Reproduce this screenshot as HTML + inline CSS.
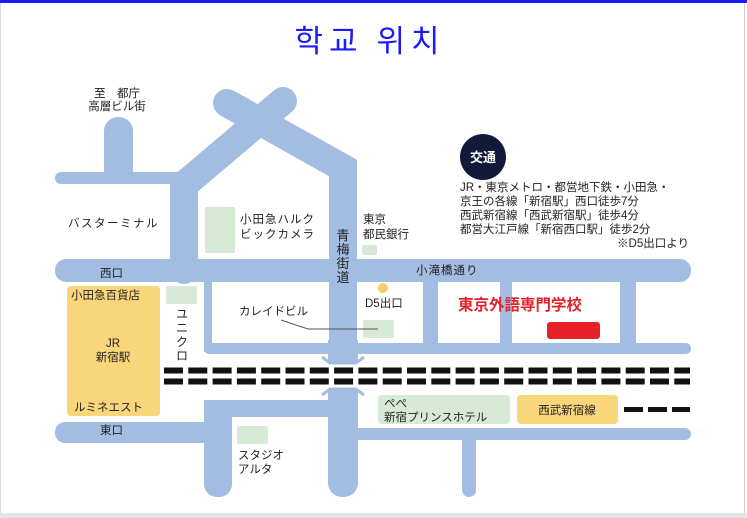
<!DOCTYPE html>
<html><head><meta charset="utf-8"><style>
html,body{margin:0;padding:0;background:#fff;}
body{width:747px;height:518px;overflow:hidden;position:relative;font-family:"Liberation Sans","Noto Sans CJK JP",sans-serif;}
</style></head><body>
<svg width="747" height="518" viewBox="0 0 747 518" xmlns="http://www.w3.org/2000/svg" style="position:absolute;left:0;top:0">
<rect x="0" y="0" width="747" height="518" fill="#fff"/>
<rect x="0" y="0" width="747" height="3" fill="#1a1aff"/>
<line x1="744.5" y1="3" x2="744.5" y2="513" stroke="#ccc" stroke-width="1"/>
<rect x="0" y="513" width="747" height="5" fill="#e4e4e4"/>
<line x1="0.5" y1="3" x2="0.5" y2="513" stroke="#ddd" stroke-width="1"/>
<text x="370" y="52" text-anchor="middle" font-size="31" fill="#1a1aff" font-family="'Noto Sans CJK KR',sans-serif" letter-spacing="6">학교 위치</text>
<g fill="#a3bde2" stroke="none">
<rect x="104" y="117" width="29" height="66" rx="14"/>
<rect x="104" y="135" width="29" height="48"/>
<rect x="55" y="172" width="143" height="12" rx="6"/>
<rect x="55" y="259" width="636" height="23" rx="11"/>
<rect x="204" y="280" width="8" height="72"/>
<rect x="423" y="280" width="15" height="70"/>
<rect x="500" y="280" width="12" height="70"/>
<rect x="620" y="280" width="16" height="70"/>
<rect x="204" y="343" width="487" height="11" rx="5"/>
<rect x="328" y="390" width="30" height="107" rx="14"/>
<rect x="328" y="390" width="30" height="80"/>
<rect x="204" y="400" width="125" height="17"/>
<rect x="204" y="400" width="28" height="97" rx="13"/>
<rect x="204" y="400" width="28" height="70"/>
<rect x="55" y="422" width="160" height="21" rx="10"/>
<rect x="340" y="428" width="351" height="12" rx="6"/>
<rect x="462" y="434" width="14" height="63" rx="7"/>
</g>
<g stroke="#a3bde2" stroke-width="28" fill="none">
<polyline points="283,101 184,185 184,270" stroke-linejoin="miter" stroke-linecap="round"/>
<polyline points="227,103 343,168 343,362" stroke-linejoin="miter"/>
<line x1="227" y1="103" x2="240" y2="110.3" stroke-linecap="round"/>
</g>
<rect x="328" y="340" width="30" height="22" fill="#a3bde2"/>
<polyline points="322,357 330,363 356,363 364,357" fill="none" stroke="#a3bde2" stroke-width="3"/>
<polyline points="322,395 330,389 356,389 364,395" fill="none" stroke="#a3bde2" stroke-width="3"/>
<rect x="67" y="286" width="93" height="130" rx="4" fill="#fad67a"/>
<rect x="166" y="286" width="31" height="18" rx="2" fill="#d6ead6"/>
<rect x="205" y="207" width="30" height="46" rx="2" fill="#d6ead6"/>
<rect x="362" y="245" width="15" height="10" rx="2" fill="#d6ead6"/>
<rect x="363" y="320" width="31" height="18" rx="2" fill="#d6ead6"/>
<circle cx="383" cy="288" r="5" fill="#f7cc62"/>
<rect x="547" y="322" width="53" height="17" rx="3" fill="#e8202a"/>
<rect x="378" y="395" width="132" height="29" rx="4" fill="#d6ead6"/>
<rect x="517" y="395" width="101" height="29" rx="4" fill="#fad67a"/>
<rect x="237" y="426" width="31" height="18" rx="2" fill="#d6ead6"/>
<line x1="164" y1="370.5" x2="690" y2="370.5" stroke="#111" stroke-width="6" stroke-dasharray="19,5.3"/>
<line x1="164" y1="381.5" x2="690" y2="381.5" stroke="#111" stroke-width="6" stroke-dasharray="19,5.3"/>
<line x1="624" y1="409.5" x2="690" y2="409.5" stroke="#111" stroke-width="5" stroke-dasharray="19,5"/>
<polyline points="281,320 308,329 378,329" fill="none" stroke="#555" stroke-width="1"/>
<circle cx="483" cy="157" r="23" fill="#121a3a"/>
<g font-size="11.5" fill="#222">
<text x="117" y="97" text-anchor="middle">至　都庁</text>
<text x="117" y="110" text-anchor="middle">高層ビル街</text>
<text x="68" y="227" letter-spacing="1.5">バスターミナル</text>
<text x="240" y="223" letter-spacing="1">小田急ハルク</text>
<text x="240" y="238" letter-spacing="1">ビックカメラ</text>
<text x="363" y="223">東京</text>
<text x="363" y="238">都民銀行</text>
<text x="100" y="277">西口</text>
<text x="416" y="274" letter-spacing="1">小滝橋通り</text>
<text x="71" y="299">小田急百貨店</text>
<text x="113" y="347" text-anchor="middle">JR</text>
<text x="113" y="361" text-anchor="middle">新宿駅</text>
<text x="74" y="411">ルミネエスト</text>
<text x="100" y="434">東口</text>
<text x="239" y="315">カレイドビル</text>
<text x="365" y="307">D5出口</text>
<text x="384" y="407">ぺぺ</text>
<text x="384" y="421">新宿プリンスホテル</text>
<text x="567" y="414" text-anchor="middle">西武新宿線</text>
<text x="238" y="459">スタジオ</text>
<text x="238" y="473">アルタ</text>
<text x="460" y="191">JR・東京メトロ・都営地下鉄・小田急・</text>
<text x="460" y="205">京王の各線「新宿駅」西口徒歩7分</text>
<text x="460" y="219">西武新宿線「西武新宿駅」徒歩4分</text>
<text x="460" y="233">都営大江戸線「新宿西口駅」徒歩2分</text>
<text x="689" y="247" text-anchor="end">※D5出口より</text>
</g>
<g font-size="12" fill="#222" text-anchor="middle">
<text x="182" y="318">ユ</text><text x="182" y="332">ニ</text><text x="182" y="346">ク</text><text x="182" y="360">ロ</text>
</g>
<g font-size="13" fill="#222" text-anchor="middle">
<text x="343" y="240">青</text><text x="343" y="254">梅</text><text x="343" y="268">街</text><text x="343" y="282">道</text>
</g>
<text x="483" y="162" text-anchor="middle" font-size="13" font-weight="bold" fill="#fff">交通</text>
<text x="458" y="310" font-size="15.5" font-weight="bold" fill="#e8202a">東京外語専門学校</text>
</svg>
</body></html>
